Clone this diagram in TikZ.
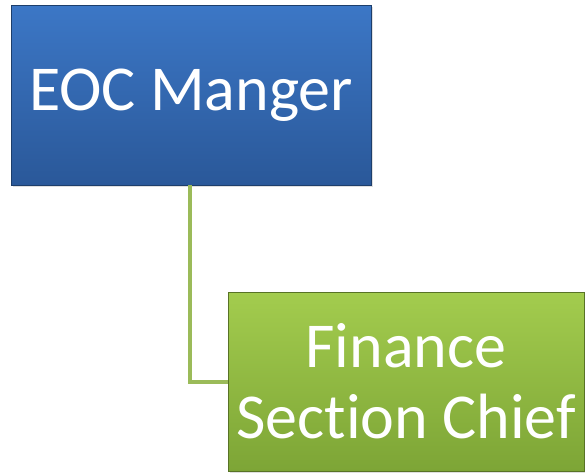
\documentclass[tikz,border=0pt]{standalone}
\usepackage{fontspec}
\setmainfont[Ligatures={NoCommon}]{Carlito}
\usetikzlibrary{positioning,shadows}

\definecolor{eocTop}{HTML}{3C77C6}
\definecolor{eocBot}{HTML}{2A5899}
\definecolor{finTop}{HTML}{A3CC4E}
\definecolor{finBot}{HTML}{7DA536}
\definecolor{linkGreen}{HTML}{9BBB59}

\begin{document}
\begin{tikzpicture}[x=1pt,y=1pt,
  every node/.style={font=\fontsize{64}{71}\selectfont,text=white,align=center,
  inner sep=0pt},
  box/.style={rectangle,draw=#1!70!black,line width=0.6pt,
  drop shadow={opacity=0.25,shadow xshift=2pt,shadow yshift=-2pt}},
  link/.style={draw=linkGreen,line width=4pt}]

% Frame
\useasboundingbox (0,0) rectangle (585,-472);

% Boxes
\node [box=eocBot,top color=eocTop,bottom color=eocBot,
  minimum width=360,minimum height=180] (EOC) at (191,-95) {EOC Manger};
\node [box=finBot,top color=finTop,bottom color=finBot,
  minimum width=356,minimum height=179] (Fin) at (406,-381.5) {Finance\\Section Chief};

% Connector
\draw [link] (EOC.south -| 190,0) |- (Fin.west);

\end{tikzpicture}
\end{document}
